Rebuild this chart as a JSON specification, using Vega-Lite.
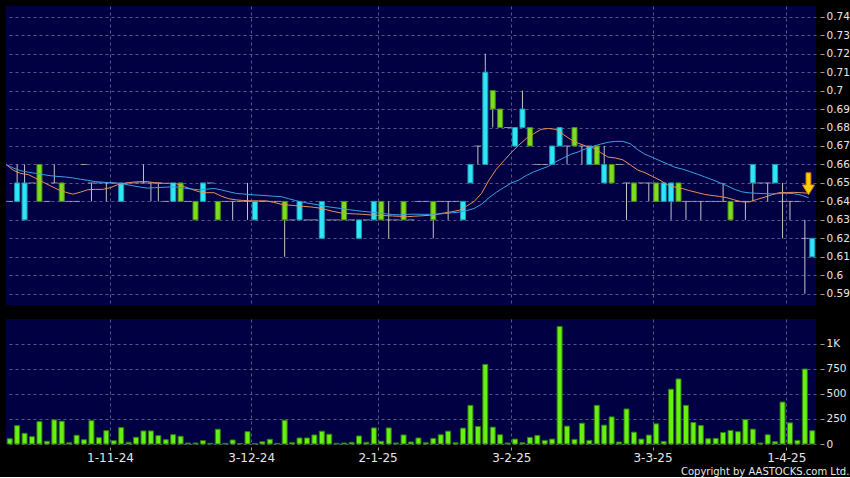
{
  "$schema": "https://vega.github.io/schema/vega-lite/v6.json",
  "background": "#000000",
  "padding": {"left": 4, "top": 6, "right": 0, "bottom": 0},
  "config": {
    "view": {"fill": "#000042", "stroke": null},
    "axis": {"domain": false, "title": null, "labelFont": "DejaVu Sans", "labelColor": "#e6e6e6", "gridColor": "#6a6aa0", "gridDash": [3, 3], "gridOpacity": 0.8, "tickColor": "#a0a0a0", "labelFlush": false, "labelOverlap": false},
    "scale": {"continuousPadding": 0}
  },
  "title": {"text": "Copyright by AASTOCKS.com Ltd.", "orient": "bottom", "anchor": "end", "frame": "bounds", "font": "DejaVu Sans", "fontSize": 10, "fontWeight": "normal", "color": "#e6e6e6", "offset": 4},
  "datasets": {
    "ohlc": [
      {"i":0,"o":0.64,"h":0.64,"l":0.64,"c":0.64,"v":53},
      {"i":1,"o":0.64,"h":0.66,"l":0.64,"c":0.65,"v":183},
      {"i":2,"o":0.63,"h":0.66,"l":0.63,"c":0.65,"v":107},
      {"i":3,"o":0.65,"h":0.65,"l":0.65,"c":0.65,"v":73},
      {"i":4,"o":0.66,"h":0.66,"l":0.64,"c":0.64,"v":223},
      {"i":5,"o":0.64,"h":0.64,"l":0.64,"c":0.64,"v":27},
      {"i":6,"o":0.65,"h":0.66,"l":0.65,"c":0.65,"v":240},
      {"i":7,"o":0.65,"h":0.65,"l":0.64,"c":0.64,"v":227},
      {"i":8,"o":0.64,"h":0.64,"l":0.64,"c":0.64,"v":13},
      {"i":9,"o":0.64,"h":0.64,"l":0.64,"c":0.64,"v":87},
      {"i":10,"o":0.66,"h":0.66,"l":0.66,"c":0.66,"v":43},
      {"i":11,"o":0.65,"h":0.65,"l":0.64,"c":0.65,"v":233},
      {"i":12,"o":0.65,"h":0.65,"l":0.65,"c":0.65,"v":63},
      {"i":13,"o":0.65,"h":0.65,"l":0.64,"c":0.65,"v":133},
      {"i":14,"o":0.65,"h":0.65,"l":0.65,"c":0.65,"v":33},
      {"i":15,"o":0.64,"h":0.65,"l":0.64,"c":0.65,"v":163},
      {"i":16,"o":0.65,"h":0.65,"l":0.65,"c":0.65,"v":17},
      {"i":17,"o":0.65,"h":0.65,"l":0.65,"c":0.65,"v":67},
      {"i":18,"o":0.65,"h":0.66,"l":0.65,"c":0.65,"v":130},
      {"i":19,"o":0.65,"h":0.65,"l":0.64,"c":0.65,"v":130},
      {"i":20,"o":0.65,"h":0.65,"l":0.64,"c":0.65,"v":83},
      {"i":21,"o":0.64,"h":0.64,"l":0.64,"c":0.64,"v":43},
      {"i":22,"o":0.64,"h":0.65,"l":0.64,"c":0.65,"v":93},
      {"i":23,"o":0.65,"h":0.65,"l":0.64,"c":0.64,"v":77},
      {"i":24,"o":0.64,"h":0.64,"l":0.64,"c":0.64,"v":10},
      {"i":25,"o":0.64,"h":0.64,"l":0.63,"c":0.63,"v":10},
      {"i":26,"o":0.64,"h":0.65,"l":0.64,"c":0.65,"v":33},
      {"i":27,"o":0.65,"h":0.65,"l":0.65,"c":0.65,"v":7},
      {"i":28,"o":0.64,"h":0.64,"l":0.63,"c":0.63,"v":147},
      {"i":29,"o":0.64,"h":0.64,"l":0.64,"c":0.64,"v":7},
      {"i":30,"o":0.64,"h":0.64,"l":0.63,"c":0.64,"v":40},
      {"i":31,"o":0.64,"h":0.64,"l":0.64,"c":0.64,"v":5},
      {"i":32,"o":0.64,"h":0.65,"l":0.63,"c":0.64,"v":123},
      {"i":33,"o":0.63,"h":0.64,"l":0.63,"c":0.64,"v":5},
      {"i":34,"o":0.64,"h":0.64,"l":0.64,"c":0.64,"v":23},
      {"i":35,"o":0.64,"h":0.64,"l":0.64,"c":0.64,"v":47},
      {"i":36,"o":0.64,"h":0.64,"l":0.64,"c":0.64,"v":6},
      {"i":37,"o":0.64,"h":0.64,"l":0.61,"c":0.63,"v":237},
      {"i":38,"o":0.63,"h":0.63,"l":0.63,"c":0.63,"v":13},
      {"i":39,"o":0.63,"h":0.64,"l":0.63,"c":0.64,"v":60},
      {"i":40,"o":0.63,"h":0.63,"l":0.63,"c":0.63,"v":60},
      {"i":41,"o":0.63,"h":0.63,"l":0.63,"c":0.63,"v":90},
      {"i":42,"o":0.62,"h":0.64,"l":0.62,"c":0.64,"v":127},
      {"i":43,"o":0.63,"h":0.63,"l":0.63,"c":0.63,"v":97},
      {"i":44,"o":0.63,"h":0.63,"l":0.63,"c":0.63,"v":7},
      {"i":45,"o":0.64,"h":0.64,"l":0.63,"c":0.63,"v":10},
      {"i":46,"o":0.63,"h":0.63,"l":0.63,"c":0.63,"v":17},
      {"i":47,"o":0.62,"h":0.63,"l":0.62,"c":0.63,"v":80},
      {"i":48,"o":0.63,"h":0.63,"l":0.63,"c":0.63,"v":17},
      {"i":49,"o":0.63,"h":0.64,"l":0.63,"c":0.64,"v":160},
      {"i":50,"o":0.64,"h":0.64,"l":0.63,"c":0.63,"v":27},
      {"i":51,"o":0.63,"h":0.64,"l":0.62,"c":0.63,"v":160},
      {"i":52,"o":0.63,"h":0.63,"l":0.63,"c":0.63,"v":10},
      {"i":53,"o":0.64,"h":0.64,"l":0.63,"c":0.63,"v":90},
      {"i":54,"o":0.63,"h":0.63,"l":0.63,"c":0.63,"v":20},
      {"i":55,"o":0.64,"h":0.64,"l":0.64,"c":0.64,"v":60},
      {"i":56,"o":0.64,"h":0.64,"l":0.64,"c":0.64,"v":13},
      {"i":57,"o":0.64,"h":0.64,"l":0.62,"c":0.63,"v":56},
      {"i":58,"o":0.64,"h":0.64,"l":0.64,"c":0.64,"v":92},
      {"i":59,"o":0.64,"h":0.64,"l":0.63,"c":0.64,"v":128},
      {"i":60,"o":0.64,"h":0.64,"l":0.64,"c":0.64,"v":13},
      {"i":61,"o":0.63,"h":0.64,"l":0.63,"c":0.64,"v":158},
      {"i":62,"o":0.65,"h":0.66,"l":0.65,"c":0.66,"v":385},
      {"i":63,"o":0.67,"h":0.67,"l":0.66,"c":0.67,"v":174},
      {"i":64,"o":0.66,"h":0.72,"l":0.66,"c":0.71,"v":793},
      {"i":65,"o":0.70,"h":0.70,"l":0.68,"c":0.69,"v":168},
      {"i":66,"o":0.69,"h":0.69,"l":0.68,"c":0.68,"v":92},
      {"i":67,"o":0.68,"h":0.68,"l":0.68,"c":0.68,"v":10},
      {"i":68,"o":0.67,"h":0.68,"l":0.67,"c":0.68,"v":49},
      {"i":69,"o":0.68,"h":0.70,"l":0.68,"c":0.69,"v":13},
      {"i":70,"o":0.68,"h":0.68,"l":0.67,"c":0.67,"v":66},
      {"i":71,"o":0.66,"h":0.66,"l":0.66,"c":0.66,"v":86},
      {"i":72,"o":0.66,"h":0.66,"l":0.66,"c":0.66,"v":36},
      {"i":73,"o":0.66,"h":0.67,"l":0.66,"c":0.67,"v":49},
      {"i":74,"o":0.67,"h":0.68,"l":0.67,"c":0.68,"v":1171},
      {"i":75,"o":0.67,"h":0.67,"l":0.66,"c":0.67,"v":178},
      {"i":76,"o":0.68,"h":0.68,"l":0.67,"c":0.67,"v":46},
      {"i":77,"o":0.67,"h":0.67,"l":0.66,"c":0.67,"v":207},
      {"i":78,"o":0.66,"h":0.67,"l":0.66,"c":0.67,"v":36},
      {"i":79,"o":0.67,"h":0.67,"l":0.66,"c":0.66,"v":385},
      {"i":80,"o":0.65,"h":0.67,"l":0.65,"c":0.66,"v":188},
      {"i":81,"o":0.66,"h":0.66,"l":0.65,"c":0.65,"v":270},
      {"i":82,"o":0.66,"h":0.66,"l":0.66,"c":0.66,"v":20},
      {"i":83,"o":0.65,"h":0.65,"l":0.63,"c":0.65,"v":349},
      {"i":84,"o":0.65,"h":0.65,"l":0.64,"c":0.64,"v":118},
      {"i":85,"o":0.65,"h":0.65,"l":0.65,"c":0.65,"v":49},
      {"i":86,"o":0.65,"h":0.65,"l":0.64,"c":0.65,"v":89},
      {"i":87,"o":0.65,"h":0.65,"l":0.64,"c":0.64,"v":201},
      {"i":88,"o":0.64,"h":0.65,"l":0.64,"c":0.65,"v":26},
      {"i":89,"o":0.64,"h":0.65,"l":0.63,"c":0.65,"v":546},
      {"i":90,"o":0.65,"h":0.65,"l":0.64,"c":0.64,"v":648},
      {"i":91,"o":0.64,"h":0.64,"l":0.63,"c":0.64,"v":385},
      {"i":92,"o":0.64,"h":0.64,"l":0.64,"c":0.64,"v":214},
      {"i":93,"o":0.64,"h":0.64,"l":0.63,"c":0.64,"v":184},
      {"i":94,"o":0.64,"h":0.64,"l":0.64,"c":0.64,"v":53},
      {"i":95,"o":0.64,"h":0.64,"l":0.64,"c":0.64,"v":56},
      {"i":96,"o":0.64,"h":0.65,"l":0.64,"c":0.64,"v":115},
      {"i":97,"o":0.64,"h":0.64,"l":0.63,"c":0.63,"v":135},
      {"i":98,"o":0.64,"h":0.64,"l":0.64,"c":0.64,"v":122},
      {"i":99,"o":0.64,"h":0.64,"l":0.63,"c":0.64,"v":243},
      {"i":100,"o":0.65,"h":0.66,"l":0.64,"c":0.66,"v":148},
      {"i":101,"o":0.65,"h":0.65,"l":0.65,"c":0.65,"v":10},
      {"i":102,"o":0.65,"h":0.65,"l":0.64,"c":0.65,"v":92},
      {"i":103,"o":0.65,"h":0.66,"l":0.65,"c":0.66,"v":23},
      {"i":104,"o":0.64,"h":0.65,"l":0.62,"c":0.64,"v":418},
      {"i":105,"o":0.64,"h":0.64,"l":0.63,"c":0.64,"v":211},
      {"i":106,"o":0.64,"h":0.64,"l":0.64,"c":0.64,"v":36},
      {"i":107,"o":0.62,"h":0.63,"l":0.59,"c":0.62,"v":747},
      {"i":108,"o":0.61,"h":0.62,"l":0.61,"c":0.62,"v":132}
    ],
    "ma": [
      {"i":0,"a":0.6600,"b":0.6600},{"i":1,"a":0.6568,"b":0.6580},{"i":2,"a":0.6551,"b":0.6566},{"i":3,"a":0.6545,"b":0.6558},
      {"i":4,"a":0.6525,"b":0.6552},{"i":5,"a":0.6504,"b":0.6545},{"i":6,"a":0.6484,"b":0.6539},{"i":7,"a":0.6464,"b":0.6535},
      {"i":8,"a":0.6450,"b":0.6532},{"i":9,"a":0.6439,"b":0.6527},{"i":10,"a":0.6450,"b":0.6520},{"i":11,"a":0.6463,"b":0.6514},
      {"i":12,"a":0.6465,"b":0.6507},{"i":13,"a":0.6465,"b":0.6504},{"i":14,"a":0.6474,"b":0.6501},{"i":15,"a":0.6490,"b":0.6498},
      {"i":16,"a":0.6498,"b":0.6493},{"i":17,"a":0.6504,"b":0.6485},{"i":18,"a":0.6507,"b":0.6478},{"i":19,"a":0.6507,"b":0.6472},
      {"i":20,"a":0.6501,"b":0.6474},{"i":21,"a":0.6498,"b":0.6476},{"i":22,"a":0.6498,"b":0.6478},{"i":23,"a":0.6495,"b":0.6478},
      {"i":24,"a":0.6480,"b":0.6472},{"i":25,"a":0.6465,"b":0.6467},{"i":26,"a":0.6452,"b":0.6463},{"i":27,"a":0.6447,"b":0.6466},
      {"i":28,"a":0.6447,"b":0.6470},{"i":29,"a":0.6428,"b":0.6462},{"i":30,"a":0.6414,"b":0.6452},{"i":31,"a":0.6408,"b":0.6443},
      {"i":32,"a":0.6405,"b":0.6440},{"i":33,"a":0.6403,"b":0.6436},{"i":34,"a":0.6403,"b":0.6434},{"i":35,"a":0.6403,"b":0.6431},
      {"i":36,"a":0.6395,"b":0.6428},{"i":37,"a":0.6385,"b":0.6426},{"i":38,"a":0.6380,"b":0.6415},{"i":39,"a":0.6377,"b":0.6404},
      {"i":40,"a":0.6373,"b":0.6395},{"i":41,"a":0.6370,"b":0.6388},{"i":42,"a":0.6365,"b":0.6381},{"i":43,"a":0.6356,"b":0.6373},
      {"i":44,"a":0.6346,"b":0.6367},{"i":45,"a":0.6338,"b":0.6362},{"i":46,"a":0.6334,"b":0.6356},{"i":47,"a":0.6332,"b":0.6351},
      {"i":48,"a":0.6330,"b":0.6346},{"i":49,"a":0.6327,"b":0.6342},{"i":50,"a":0.6325,"b":0.6338},{"i":51,"a":0.6323,"b":0.6333},
      {"i":52,"a":0.6321,"b":0.6329},{"i":53,"a":0.6319,"b":0.6327},{"i":54,"a":0.6317,"b":0.6330},{"i":55,"a":0.6320,"b":0.6331},
      {"i":56,"a":0.6322,"b":0.6330},{"i":57,"a":0.6325,"b":0.6330},{"i":58,"a":0.6330,"b":0.6331},{"i":59,"a":0.6338,"b":0.6334},
      {"i":60,"a":0.6344,"b":0.6338},{"i":61,"a":0.6352,"b":0.6342},{"i":62,"a":0.6375,"b":0.6350},{"i":63,"a":0.6400,"b":0.6362},
      {"i":64,"a":0.6444,"b":0.6385},{"i":65,"a":0.6516,"b":0.6420},{"i":66,"a":0.6575,"b":0.6450},{"i":67,"a":0.6620,"b":0.6475},
      {"i":68,"a":0.6665,"b":0.6500},{"i":69,"a":0.6705,"b":0.6515},{"i":70,"a":0.6740,"b":0.6540},{"i":71,"a":0.6766,"b":0.6560},
      {"i":72,"a":0.6790,"b":0.6575},{"i":73,"a":0.6795,"b":0.6590},{"i":74,"a":0.6790,"b":0.6615},{"i":75,"a":0.6762,"b":0.6635},
      {"i":76,"a":0.6735,"b":0.6655},{"i":77,"a":0.6715,"b":0.6668},{"i":78,"a":0.6700,"b":0.6685},{"i":79,"a":0.6690,"b":0.6698},
      {"i":80,"a":0.6665,"b":0.6710},{"i":81,"a":0.6640,"b":0.6720},{"i":82,"a":0.6635,"b":0.6725},{"i":83,"a":0.6625,"b":0.6725},
      {"i":84,"a":0.6598,"b":0.6712},{"i":85,"a":0.6570,"b":0.6680},{"i":86,"a":0.6555,"b":0.6655},{"i":87,"a":0.6535,"b":0.6638},
      {"i":88,"a":0.6515,"b":0.6620},{"i":89,"a":0.6490,"b":0.6603},{"i":90,"a":0.6478,"b":0.6585},{"i":91,"a":0.6470,"b":0.6575},
      {"i":92,"a":0.6458,"b":0.6562},{"i":93,"a":0.6448,"b":0.6548},{"i":94,"a":0.6438,"b":0.6533},{"i":95,"a":0.6432,"b":0.6518},
      {"i":96,"a":0.6427,"b":0.6502},{"i":97,"a":0.6420,"b":0.6485},{"i":98,"a":0.6408,"b":0.6466},{"i":99,"a":0.6398,"b":0.6452},
      {"i":100,"a":0.6397,"b":0.6446},{"i":101,"a":0.6410,"b":0.6444},{"i":102,"a":0.6422,"b":0.6442},{"i":103,"a":0.6435,"b":0.6441},
      {"i":104,"a":0.6447,"b":0.6442},{"i":105,"a":0.6448,"b":0.6444},{"i":106,"a":0.6449,"b":0.6442},{"i":107,"a":0.6447,"b":0.6434},
      {"i":108,"a":0.6444,"b":0.6420}
    ],
    "sig": [{"i": 107, "p": 0.6495}]
  },
  "spacing": 14,
  "vconcat": [
    {
      "width": 810,
      "height": 299,
      "encoding": {
        "x": {"field": "i", "type": "quantitative", "scale": {"domain": [-0.5, 108.5], "nice": false, "zero": false, "padding": 0},
              "axis": {"values": [13.5, 32.5, 49.5, 67.5, 86.5, 104.5], "labels": false, "ticks": false, "grid": true}}
      },
      "layer": [
        {
          "data": {"name": "ohlc"},
          "mark": {"type": "rule", "color": "#c4c4c4", "strokeWidth": 1},
          "encoding": {
            "y": {"field": "l", "type": "quantitative", "scale": {"domain": [0.5839, 0.7458], "nice": false, "zero": false, "padding": 0},
                  "axis": {"orient": "right", "values": [0.59, 0.6, 0.61, 0.62, 0.63, 0.64, 0.65, 0.66, 0.67, 0.68, 0.69, 0.7, 0.71, 0.72, 0.73, 0.74],
                           "format": ".2~f", "labelFontSize": 10.5, "tickSize": 4, "offset": 4, "labelPadding": 2, "grid": true, "labelOverlap": false}},
            "y2": {"field": "h"}
          }
        },
        {
          "data": {"name": "ohlc"},
          "transform": [{"filter": "datum.o == datum.c"}],
          "mark": {"type": "tick", "orient": "horizontal", "size": 7, "thickness": 1, "color": "#c4c4c4"},
          "encoding": {
            "y": {"field": "c", "type": "quantitative", "scale": {"domain": [0.5839, 0.7458], "nice": false, "zero": false, "padding": 0},
                  "axis": {"orient": "right", "values": [0.59, 0.6, 0.61, 0.62, 0.63, 0.64, 0.65, 0.66, 0.67, 0.68, 0.69, 0.7, 0.71, 0.72, 0.73, 0.74],
                           "format": ".2~f", "labelFontSize": 10.5, "tickSize": 4, "offset": 4, "labelPadding": 2, "grid": true, "labelOverlap": false}}
          }
        },
        {
          "data": {"name": "ohlc"},
          "transform": [{"filter": "datum.o != datum.c"}],
          "mark": {"type": "bar", "width": 5, "strokeWidth": 1},
          "encoding": {
            "y": {"field": "o", "type": "quantitative", "scale": {"domain": [0.5839, 0.7458], "nice": false, "zero": false, "padding": 0},
                  "axis": {"orient": "right", "values": [0.59, 0.6, 0.61, 0.62, 0.63, 0.64, 0.65, 0.66, 0.67, 0.68, 0.69, 0.7, 0.71, 0.72, 0.73, 0.74],
                           "format": ".2~f", "labelFontSize": 10.5, "tickSize": 4, "offset": 4, "labelPadding": 2, "grid": true, "labelOverlap": false}},
            "y2": {"field": "c"},
            "fill": {"condition": {"test": "datum.c > datum.o", "value": "#2ee6f6"}, "value": "#7ddc1e"},
            "stroke": {"condition": {"test": "datum.c > datum.o", "value": "#1a9db0"}, "value": "#4a8f12"}
          }
        },
        {
          "data": {"name": "ma"},
          "mark": {"type": "line", "color": "#e8905a", "strokeWidth": 1, "xOffset": -3.7},
          "encoding": {
            "y": {"field": "a", "type": "quantitative", "scale": {"domain": [0.5839, 0.7458], "nice": false, "zero": false, "padding": 0},
                  "axis": {"orient": "right", "values": [0.59, 0.6, 0.61, 0.62, 0.63, 0.64, 0.65, 0.66, 0.67, 0.68, 0.69, 0.7, 0.71, 0.72, 0.73, 0.74],
                           "format": ".2~f", "labelFontSize": 10.5, "tickSize": 4, "offset": 4, "labelPadding": 2, "grid": true, "labelOverlap": false}}
          }
        },
        {
          "data": {"name": "ma"},
          "mark": {"type": "line", "color": "#3d9fe8", "strokeWidth": 1, "xOffset": -3.7},
          "encoding": {
            "y": {"field": "b", "type": "quantitative", "scale": {"domain": [0.5839, 0.7458], "nice": false, "zero": false, "padding": 0},
                  "axis": {"orient": "right", "values": [0.59, 0.6, 0.61, 0.62, 0.63, 0.64, 0.65, 0.66, 0.67, 0.68, 0.69, 0.7, 0.71, 0.72, 0.73, 0.74],
                           "format": ".2~f", "labelFontSize": 10.5, "tickSize": 4, "offset": 4, "labelPadding": 2, "grid": true, "labelOverlap": false}}
          }
        },
        {
          "data": {"name": "sig"},
          "mark": {"type": "point", "filled": true, "size": 484, "xOffset": 3.6, "fill": "#ffcc00", "stroke": "#c88400", "strokeWidth": 1, "opacity": 1,
                   "shape": "M-0.22,-1L0.22,-1L0.22,0.1L0.55,0.1L0,1L-0.55,0.1L-0.22,0.1Z"},
          "encoding": {
            "y": {"field": "p", "type": "quantitative", "scale": {"domain": [0.5839, 0.7458], "nice": false, "zero": false, "padding": 0},
                  "axis": {"orient": "right", "values": [0.59, 0.6, 0.61, 0.62, 0.63, 0.64, 0.65, 0.66, 0.67, 0.68, 0.69, 0.7, 0.71, 0.72, 0.73, 0.74],
                           "format": ".2~f", "labelFontSize": 10.5, "tickSize": 4, "offset": 4, "labelPadding": 2, "grid": true, "labelOverlap": false}}
          }
        }
      ]
    },
    {
      "width": 810,
      "height": 125,
      "data": {"name": "ohlc"},
      "mark": {"type": "bar", "width": 5, "fill": "#66f014", "stroke": "#2f7d08", "strokeWidth": 1},
      "encoding": {
        "x": {"field": "i", "type": "quantitative", "scale": {"domain": [-0.5, 108.5], "nice": false, "zero": false, "padding": 0},
              "axis": {"values": [13.5, 32.5, 49.5, 67.5, 86.5, 104.5], "grid": true, "labelFontSize": 12, "tickSize": 3, "offset": 3, "labelPadding": 2,
                       "labelExpr": "datum.value < 20 ? '1-11-24' : datum.value < 40 ? '3-12-24' : datum.value < 60 ? '2-1-25' : datum.value < 80 ? '3-2-25' : datum.value < 95 ? '3-3-25' : '1-4-25'"}},
        "y": {"field": "v", "type": "quantitative", "scale": {"domain": [0, 1245], "nice": false, "padding": 0},
              "axis": {"orient": "right", "values": [0, 250, 500, 750, 1000], "labelExpr": "datum.value >= 1000 ? '1K' : datum.label",
                       "labelFontSize": 10.5, "tickSize": 4, "offset": 4, "labelPadding": 2, "grid": true}}
      }
    }
  ]
}
